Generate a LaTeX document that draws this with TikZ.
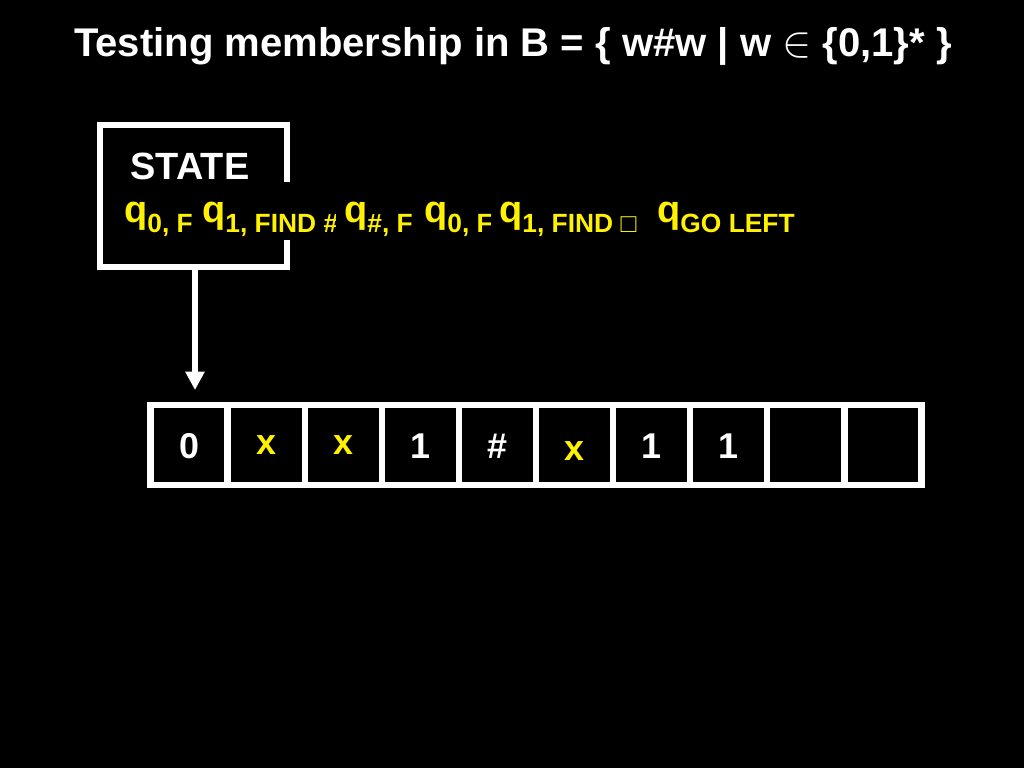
\documentclass[tikz,border=0pt]{standalone}
\usepackage{fontspec}
\setmainfont{Liberation Sans}
\usetikzlibrary{arrows.meta}

\newcommand{\subf}{\fontsize{15pt}{17pt}\selectfont}
\newcommand{\qs}[1]{q\raisebox{-5.7pt}{\subf #1}}

\tikzset{
  statelab/.style={fill=black, text=yellow, font=\bfseries\fontsize{21.6pt}{26pt}\selectfont,
    inner xsep=4.5pt, inner ysep=0pt, text height=22.8pt, text depth=10.2pt, anchor=base west},
  cellbox/.style={draw=white, line width=3.6pt, minimum width=77.1*0.02cm, minimum height=80*0.02cm},
  symb/.style={font=\bfseries\fontsize{20.4pt}{24pt}\selectfont, anchor=base}
}

\begin{document}
\begin{tikzpicture}[x=0.02cm, y=-0.02cm]
\fill[black] (0,0) rectangle (1024,768);
\useasboundingbox (0,0) rectangle (1024,768);

% Title
\node[text=white, font=\bfseries\fontsize{22.8pt}{26pt}\selectfont, anchor=base] (title) at (513,56)
  {Testing membership in B = \{ w\#w | w {\fontsize{27pt}{30pt}\selectfont$\in$} \{0,1\}* \}};

% State box
\node[draw=white, line width=3.6pt, minimum width=187*0.02cm, minimum height=142*0.02cm] (statebox) at (193.5,196) {};
\node[text=white, font=\bfseries\fontsize{21.6pt}{26pt}\selectfont, anchor=base] (statename) at (190,179) {STATE};

% State labels (later ones cover earlier ones)
\node[statelab] (st1) at (116,222) {\qs{0, F}};
\node[statelab] (st2) at (194,222) {\qs{1, FIND \#}};
\node[statelab] (st3) at (336,222) {\qs{\#, F}};
\node[statelab] (st4) at (416,222) {\qs{0, F}};
\node[statelab] (st5) at (491,222) {\qs{1, FIND □}};
\node[statelab] (st6) at (649,222) {\qs{GO LEFT}};

% Tape
\foreach \i in {1,...,10}
  \node[cellbox] (cell\i) at ({150.5+77.1*(\i-0.5)},445) {};
\foreach \i/\t/\c/\b in {1/0/white/458, 2/x/yellow/454, 3/x/yellow/454, 4/1/white/458,
    5/\#/white/458, 6/x/yellow/460, 7/1/white/458, 8/1/white/458}
  \node[symb, text=\c] (sym\i) at (cell\i |- 0,\b) {\t};

% Head arrow
\coordinate (head) at (195,390);
\draw[-{Triangle[width=10.5pt, length=10.5pt]}, white, line width=2.9pt] (statebox.south -| head) -- (head);
\end{tikzpicture}
\end{document}
